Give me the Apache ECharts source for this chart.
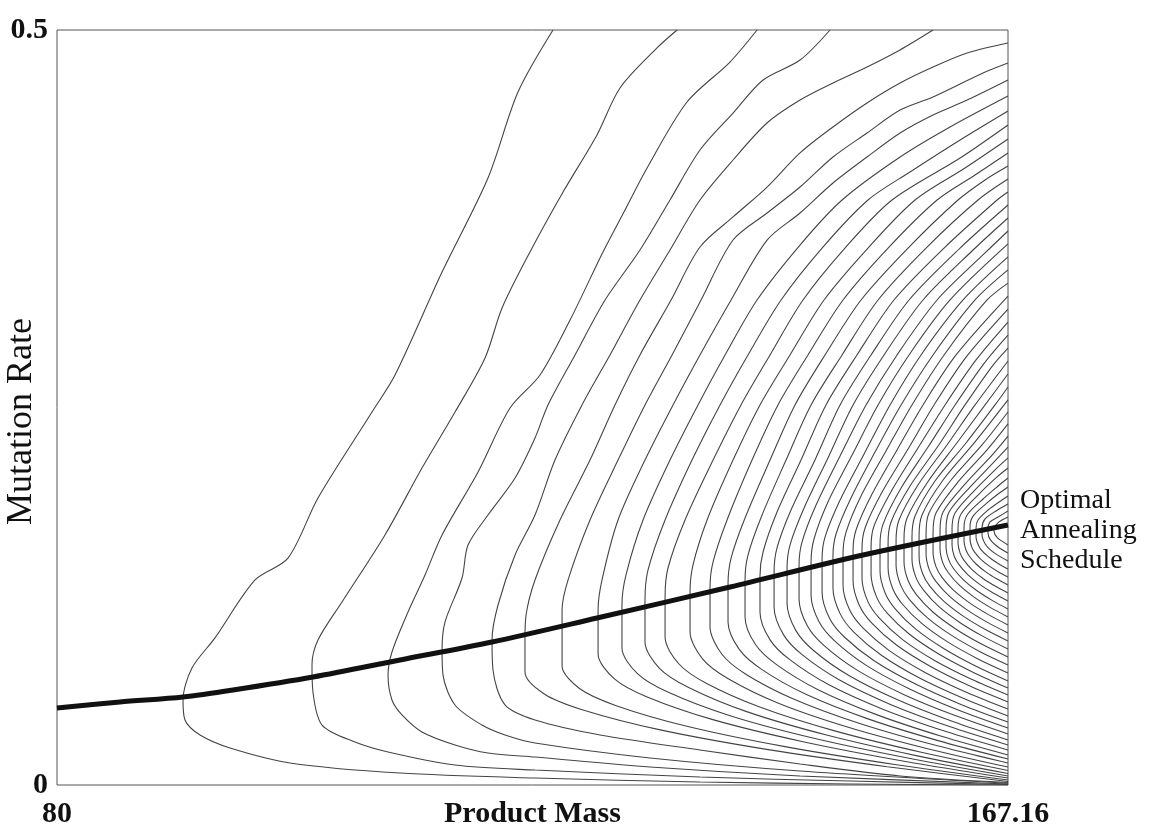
<!DOCTYPE html>
<html><head><meta charset="utf-8">
<script src="https://cdn.jsdelivr.net/npm/echarts@6/dist/echarts.min.js"></script>
<style>html,body{margin:0;padding:0;background:#fff}#chart{width:1160px;height:830px}</style>
</head><body><div id="chart"></div>
<script>
const xTickLabels = [80, 167.16];
const yTickLabels = [0, 0.5];
const xName = 'Product Mass';
const yName = 'Mutation Rate';
const scheduleName = 'Optimal\nAnnealing\nSchedule';

// optimal annealing schedule (thick line)
const schedule = [[80,0.0510],[85.77,0.0550],[91.55,0.0583],[96.13,0.0629],[103.46,0.0715],[111.44,0.0828],[119.87,0.0947],[129.49,0.1106],[141.68,0.1311],[153.87,0.1523],[167.16,0.1722]];

// contour lines, outermost first
const c1 = [[125.46,0.5],[122.25,0.4589],[119.50,0.4020],[115.29,0.3397],[110.98,0.2715],[108.87,0.2470],[103.92,0.1901],[101.17,0.1503],[98.15,0.1358],[94.48,0.0974],[92.37,0.0775],[91.55,0.0563],[91.73,0.0430],[93.11,0.0331],[95.86,0.0245],[101.36,0.0146],[111.44,0.0079],[123.81,0.0046],[138.93,0.0020],[152.68,0.0007],[167.16,0]];
const c2 = [[136.83,0.5],[134.99,0.4881],[131.60,0.4616],[129.49,0.4305],[126.38,0.3927],[123.35,0.3530],[120.79,0.3159],[119.23,0.2828],[116.48,0.2470],[113.45,0.2099],[110.06,0.1656],[106.12,0.1212],[103.92,0.0960],[103.37,0.0795],[103.46,0.0616],[104.29,0.0397],[107.31,0.0285],[110.34,0.0219],[116.48,0.0132],[123.81,0.0099],[138.93,0.0053],[152.68,0.0026],[167.16,0.0003]];
const c3 = [[144.16,0.5],[141.68,0.4788],[137.74,0.4523],[134.08,0.4086],[132.06,0.3808],[130.04,0.3530],[127.02,0.3079],[124.27,0.2715],[121.52,0.2497],[118.59,0.2073],[115.29,0.1656],[113.73,0.1391],[112.17,0.1146],[110.70,0.0881],[110.34,0.0728],[110.70,0.0563],[111.62,0.0464],[113.45,0.0351],[116.48,0.0265],[119.50,0.0212],[123.81,0.0185],[134.35,0.0119],[148.10,0.0060],[167.16,0.0007]];
const c4 = [[150.85,0.5],[148.10,0.4801],[144.71,0.4669],[141.96,0.4450],[138.93,0.4205],[136.18,0.3874],[133.43,0.3543],[130.23,0.3212],[127.48,0.2848],[125.00,0.2517],[123.81,0.2298],[121.98,0.2033],[119.50,0.1788],[117.67,0.1589],[117.12,0.1371],[115.56,0.1079],[115.29,0.0894],[115.38,0.0728],[116.48,0.0530],[118.95,0.0397],[121.06,0.0331],[123.81,0.0278],[134.35,0.0179],[148.10,0.0093],[167.16,0.0012]];
const c5 = [[160.29,0.5],[157.26,0.4868],[154.24,0.4755],[151.12,0.4649],[148.10,0.4536],[145.07,0.4384],[141.96,0.4139],[138.93,0.3874],[136.18,0.3543],[133.43,0.3212],[130.68,0.2848],[128.12,0.2517],[125.64,0.2152],[123.81,0.1788],[121.98,0.1523],[120.42,0.1192],[119.87,0.0960],[119.96,0.0762],[121.06,0.0530],[123.81,0.0430],[129.77,0.0331],[138.93,0.0232],[148.10,0.0139],[157.26,0.0060],[167.16,0.0017]];
const c6 = [[167.16,0.4914],[163.41,0.4848],[160.29,0.4755],[157.27,0.4649],[154.24,0.4517],[151.12,0.4358],[148.10,0.4186],[145.08,0.3960],[141.96,0.3762],[138.93,0.3563],[136.28,0.3212],[133.43,0.2848],[131.14,0.2517],[128.85,0.2152],[126.10,0.1755],[123.81,0.1358],[122.99,0.1126],[122.89,0.0960],[122.89,0.0748],[124.66,0.0603],[128.21,0.0497],[135.29,0.0365],[145.03,0.0236],[156.10,0.0121],[167.16,0.0023]];
const c7 = [[167.16,0.4781],[164.87,0.4715],[160.29,0.4556],[157.27,0.4470],[154.24,0.4318],[151.12,0.4159],[148.10,0.3960],[145.08,0.3788],[141.96,0.3609],[139.03,0.3212],[136.37,0.2848],[133.89,0.2517],[131.42,0.2152],[128.85,0.1755],[126.84,0.1358],[126.29,0.1159],[126.29,0.0960],[126.29,0.0788],[127.92,0.0637],[131.19,0.0527],[137.73,0.0389],[146.72,0.0254],[156.94,0.0134],[167.16,0.0033]];
const c8 = [[167.16,0.4669],[163.41,0.4536],[160.29,0.4437],[157.27,0.4318],[154.24,0.4159],[151.12,0.3987],[148.10,0.3788],[145.08,0.3609],[141.78,0.3212],[138.93,0.2848],[136.46,0.2517],[133.89,0.2152],[131.42,0.1755],[129.95,0.1358],[129.59,0.1159],[129.59,0.0868],[131.09,0.0703],[134.09,0.0583],[140.11,0.0433],[148.37,0.0287],[157.77,0.0156],[167.16,0.0046]];
const c9 = [[167.16,0.4563],[161.85,0.4358],[157.27,0.4159],[151.95,0.3874],[148.10,0.3576],[144.16,0.3212],[141.23,0.2848],[138.75,0.2517],[136.18,0.2152],[133.71,0.1755],[132.15,0.1391],[131.78,0.1192],[131.78,0.0907],[133.20,0.0738],[136.03,0.0614],[141.69,0.0459],[149.47,0.0308],[158.32,0.0174],[167.16,0.0060]];
const c10 = [[167.16,0.4464],[162.77,0.4272],[158.18,0.4060],[154.33,0.3874],[150.12,0.3556],[146.36,0.3212],[143.33,0.2848],[140.77,0.2517],[138.20,0.2152],[135.73,0.1755],[134.17,0.1424],[133.89,0.1225],[133.89,0.0947],[135.22,0.0773],[137.89,0.0646],[143.21,0.0486],[150.53,0.0331],[158.85,0.0193],[167.16,0.0076]];
const c11 = [[167.16,0.4371],[162.77,0.4152],[156.53,0.3874],[152.22,0.3556],[148.37,0.3212],[145.35,0.2848],[142.69,0.2517],[140.13,0.2152],[137.56,0.1755],[136.00,0.1437],[135.73,0.1245],[135.73,0.0980],[136.98,0.0803],[139.50,0.0674],[144.53,0.0513],[151.44,0.0355],[159.31,0.0215],[167.16,0.0096]];
const c12 = [[167.16,0.4278],[163.22,0.4086],[158.64,0.3874],[154.33,0.3556],[150.30,0.3212],[147.18,0.2848],[144.43,0.2517],[141.96,0.2152],[139.58,0.1755],[138.29,0.1457],[138.02,0.1278],[138.02,0.1013],[139.18,0.0834],[141.52,0.0704],[146.18,0.0540],[152.59,0.0381],[159.88,0.0239],[167.16,0.0119]];
const c13 = [[167.16,0.4185],[164.14,0.4040],[160.66,0.3874],[156.17,0.3556],[152.04,0.3212],[148.83,0.2848],[146.08,0.2517],[143.70,0.2152],[141.41,0.1755],[140.13,0.1477],[139.85,0.1305],[139.85,0.1046],[140.94,0.0866],[143.13,0.0734],[147.50,0.0570],[153.51,0.0409],[160.34,0.0266],[167.16,0.0146]];
const c14 = [[167.16,0.4099],[165.06,0.4007],[162.58,0.3874],[158.00,0.3556],[153.69,0.3212],[150.39,0.2848],[147.64,0.2517],[145.35,0.2152],[143.06,0.1768],[141.78,0.1503],[141.50,0.1331],[141.50,0.1079],[142.53,0.0898],[144.58,0.0766],[148.69,0.0599],[154.33,0.0438],[160.75,0.0294],[167.16,0.0172]];
const c15 = [[167.16,0.4013],[164.41,0.3874],[159.65,0.3556],[155.25,0.3212],[151.95,0.2848],[149.11,0.2517],[146.82,0.2152],[144.62,0.1788],[143.33,0.1523],[143.06,0.1358],[143.06,0.1113],[144.02,0.0930],[145.95,0.0797],[149.80,0.0629],[155.11,0.0466],[161.14,0.0321],[167.16,0.0199]];
const c16 = [[167.16,0.3927],[166.16,0.3874],[161.30,0.3556],[156.71,0.3212],[153.32,0.2848],[150.48,0.2517],[148.19,0.2152],[145.99,0.1808],[144.71,0.1543],[144.43,0.1384],[144.43,0.1146],[145.34,0.0963],[147.16,0.0830],[150.79,0.0662],[155.80,0.0499],[161.48,0.0354],[167.16,0.0232]];
const c17 = [[167.16,0.3841],[162.77,0.3556],[158.09,0.3212],[154.61,0.2848],[151.77,0.2517],[149.47,0.2152],[147.27,0.1821],[145.99,0.1570],[145.72,0.1411],[145.72,0.1179],[146.58,0.0996],[148.29,0.0863],[151.72,0.0695],[156.44,0.0532],[161.80,0.0387],[167.16,0.0265]];
const c18 = [[167.16,0.3755],[163.96,0.3543],[159.37,0.3212],[155.80,0.2848],[152.96,0.2517],[150.66,0.2166],[148.47,0.1834],[147.18,0.1589],[146.91,0.1437],[146.91,0.1205],[147.71,0.1024],[149.34,0.0891],[152.58,0.0725],[157.04,0.0564],[162.10,0.0420],[167.16,0.0298]];
const c19 = [[167.16,0.3669],[165.15,0.3530],[160.66,0.3212],[156.99,0.2848],[154.15,0.2517],[151.77,0.2179],[149.57,0.1854],[148.28,0.1609],[148.01,0.1457],[148.01,0.1232],[148.78,0.1053],[150.31,0.0923],[153.37,0.0759],[157.59,0.0600],[162.38,0.0458],[167.16,0.0338]];
const c20 = [[167.16,0.3583],[161.85,0.3212],[158.09,0.2848],[155.25,0.2517],[152.87,0.2185],[150.66,0.1874],[149.38,0.1629],[149.11,0.1477],[149.11,0.1258],[149.83,0.1082],[151.27,0.0954],[154.17,0.0792],[158.14,0.0636],[162.65,0.0495],[167.16,0.0377]];
const c21 = [[167.16,0.3497],[163.04,0.3212],[159.19,0.2848],[156.35,0.2517],[153.97,0.2192],[151.77,0.1887],[150.39,0.1642],[150.12,0.1497],[150.12,0.1278],[150.79,0.1106],[152.16,0.0980],[154.89,0.0823],[158.64,0.0670],[162.90,0.0532],[167.16,0.0417]];
const c22 = [[167.16,0.3411],[164.14,0.3212],[160.29,0.2848],[157.36,0.2517],[154.97,0.2205],[152.77,0.1901],[151.40,0.1662],[151.12,0.1517],[151.12,0.1305],[151.77,0.1135],[153.05,0.1011],[155.62,0.0856],[159.14,0.0705],[163.16,0.0571],[167.16,0.0457]];
const c23 = [[167.16,0.3324],[165.24,0.3212],[161.30,0.2848],[158.36,0.2517],[155.98,0.2212],[153.69,0.1914],[152.32,0.1675],[152.04,0.1530],[152.04,0.1325],[152.64,0.1160],[153.86,0.1040],[156.28,0.0890],[159.60,0.0744],[163.39,0.0613],[167.16,0.0503]];
const c24 = [[167.16,0.3238],[162.40,0.2848],[159.37,0.2517],[156.99,0.2219],[154.70,0.1927],[153.23,0.1689],[152.96,0.1550],[152.96,0.1351],[153.53,0.1191],[154.66,0.1074],[156.94,0.0927],[160.06,0.0785],[163.62,0.0657],[167.16,0.0550]];
const c25 = [[167.16,0.3152],[163.32,0.2834],[160.38,0.2517],[158.00,0.2225],[155.62,0.1940],[154.06,0.1702],[153.78,0.1563],[153.78,0.1371],[154.31,0.1216],[155.39,0.1103],[157.53,0.0961],[160.47,0.0823],[163.82,0.0700],[167.16,0.0596]];
const c26 = [[167.16,0.3066],[164.23,0.2815],[161.39,0.2517],[158.91,0.2232],[156.53,0.1954],[154.88,0.1715],[154.61,0.1576],[154.61,0.1397],[155.11,0.1246],[156.11,0.1136],[158.13,0.0998],[160.89,0.0864],[164.03,0.0744],[167.16,0.0642]];
const c27 = [[167.16,0.2980],[165.06,0.2801],[162.31,0.2517],[159.83,0.2238],[157.36,0.1967],[155.71,0.1728],[155.43,0.1589],[155.43,0.1417],[155.90,0.1272],[156.84,0.1165],[158.71,0.1032],[161.30,0.0902],[164.23,0.0786],[167.16,0.0689]];
const c28 = [[167.16,0.2894],[165.79,0.2781],[163.22,0.2517],[160.75,0.2245],[158.18,0.1980],[156.44,0.1742],[156.17,0.1603],[156.17,0.1437],[156.61,0.1298],[157.49,0.1197],[159.25,0.1070],[161.66,0.0946],[164.41,0.0835],[167.16,0.0742]];
const c29 = [[167.16,0.2808],[164.14,0.2517],[161.57,0.2252],[158.91,0.1987],[157.17,0.1755],[156.90,0.1616],[156.90,0.1457],[157.31,0.1325],[158.13,0.1228],[159.78,0.1107],[162.03,0.0989],[164.60,0.0883],[167.16,0.0795]];
const c30 = [[167.16,0.2722],[165.06,0.2517],[162.40,0.2258],[159.74,0.2000],[157.91,0.1768],[157.63,0.1629],[157.63,0.1477],[158.02,0.1351],[158.78,0.1259],[160.30,0.1144],[162.40,0.1032],[164.78,0.0932],[167.16,0.0848]];
const c31 = [[167.16,0.2636],[165.97,0.2517],[163.31,0.2265],[160.47,0.2013],[158.64,0.1781],[158.36,0.1642],[158.36,0.1497],[158.71,0.1377],[159.42,0.1291],[160.83,0.1181],[162.77,0.1075],[164.96,0.0981],[167.16,0.0901]];
const c32 = [[167.16,0.2550],[164.14,0.2272],[161.21,0.2020],[159.28,0.1788],[159.01,0.1649],[159.01,0.1510],[159.34,0.1399],[159.99,0.1317],[161.29,0.1216],[163.09,0.1117],[165.13,0.1028],[167.16,0.0954]];
const c33 = [[167.16,0.2470],[164.78,0.2252],[161.94,0.2020],[159.92,0.1801],[159.65,0.1662],[159.65,0.1530],[159.95,0.1425],[160.55,0.1349],[161.76,0.1253],[163.41,0.1160],[165.28,0.1077],[167.16,0.1007]];
const c34 = [[167.16,0.2391],[165.24,0.2219],[162.58,0.2007],[160.56,0.1801],[160.29,0.1669],[160.29,0.1543],[160.56,0.1446],[161.11,0.1375],[162.21,0.1287],[163.73,0.1201],[165.45,0.1125],[167.16,0.1060]];
const c35 = [[167.16,0.2311],[165.70,0.2185],[163.22,0.1993],[161.21,0.1808],[160.93,0.1682],[160.93,0.1563],[161.18,0.1473],[161.68,0.1407],[162.67,0.1325],[164.05,0.1244],[165.60,0.1173],[167.16,0.1113]];
const c36 = [[167.16,0.2238],[165.97,0.2146],[163.68,0.1973],[161.76,0.1808],[161.48,0.1689],[161.48,0.1576],[161.71,0.1494],[162.16,0.1434],[163.08,0.1359],[164.32,0.1286],[165.74,0.1221],[167.16,0.1166]];
const c37 = [[167.16,0.2166],[166.06,0.2093],[164.14,0.1954],[162.31,0.1801],[162.03,0.1695],[162.03,0.1589],[162.23,0.1515],[162.65,0.1461],[163.47,0.1393],[164.60,0.1327],[165.88,0.1268],[167.16,0.1219]];
const c38 = [[167.16,0.2099],[166.16,0.2040],[164.51,0.1927],[162.86,0.1795],[162.58,0.1702],[162.58,0.1603],[162.77,0.1536],[163.13,0.1488],[163.86,0.1427],[164.87,0.1368],[166.02,0.1316],[167.16,0.1272]];
const c39 = [[167.16,0.2033],[166.25,0.1980],[164.87,0.1894],[163.41,0.1788],[163.13,0.1702],[163.13,0.1616],[163.30,0.1558],[163.62,0.1515],[164.26,0.1462],[165.15,0.1410],[166.16,0.1364],[167.16,0.1325]];
const c40 = [[167.16,0.1974],[166.25,0.1927],[165.24,0.1868],[163.96,0.1781],[163.68,0.1709],[163.68,0.1629],[163.82,0.1579],[164.10,0.1542],[164.65,0.1496],[165.42,0.1451],[166.29,0.1411],[167.16,0.1377]];
const c41 = [[167.16,0.1914],[166.34,0.1874],[165.33,0.1821],[164.41,0.1755],[164.23,0.1702],[164.23,0.1642],[164.58,0.1569],[165.06,0.1530],[165.70,0.1493],[166.43,0.1459],[167.16,0.1430]];
const c42 = [[167.16,0.1861],[166.06,0.1815],[165.06,0.1762],[164.78,0.1702],[164.78,0.1656],[165.07,0.1596],[165.45,0.1564],[165.97,0.1534],[167.16,0.1483]];
const c43 = [[167.16,0.1815],[166.25,0.1775],[165.51,0.1742],[165.33,0.1695],[165.33,0.1669],[165.55,0.1623],[166.25,0.1576],[167.16,0.1536]];
const c44 = [[167.16,0.1775],[166.34,0.1742],[165.88,0.1695],[165.88,0.1682],[166.20,0.1636],[167.16,0.1589]];

const contours = [c1,c2,c3,c4,c5,c6,c7,c8,c9,c10,c11,c12,c13,c14,c15,c16,c17,c18,c19,c20,c21,c22,c23,c24,c25,c26,c27,c28,c29,c30,c31,c32,c33,c34,c35,c36,c37,c38,c39,c40,c41,c42,c43,c44];

const serif = "'Liberation Serif','Times New Roman',serif";
const chart = echarts.init(document.getElementById('chart'), null, {renderer: 'canvas'});

const series = contours.map(function (d) {
  return {
    type: 'line', data: d, showSymbol: false, smooth: 0.3, silent: true,
    lineStyle: {color: '#444', width: 1.1}, animation: false, clip: true
  };
});
series.push({
  type: 'line', data: schedule, showSymbol: false, smooth: 0.3, silent: true,
  lineStyle: {color: '#111', width: 5}, animation: false, clip: true,
  endLabel: {
    show: true, formatter: scheduleName, distance: 12, offset: [0, 6],
    fontFamily: serif, fontSize: 28, lineHeight: 30, color: '#111', align: 'left'
  }
});

chart.setOption({
  animation: false,
  backgroundColor: '#fff',
  grid: {left: 57, top: 30, width: 951, height: 755, containLabel: false, outerBoundsMode: 'none',
         show: true, borderColor: '#555', borderWidth: 1, backgroundColor: '#fff'},
  xAxis: {
    type: 'value', min: 80, max: 167.16,
    axisLine: {show: false}, axisTick: {show: false}, splitLine: {show: false},
    axisLabel: {customValues: xTickLabels, fontFamily: serif, fontSize: 30, fontWeight: 'bold', color: '#111', margin: 14},
    name: xName, nameLocation: 'middle', nameGap: 14, nameMoveOverlap: false,
    nameTextStyle: {fontFamily: serif, fontSize: 30, fontWeight: 'bold', color: '#111', verticalAlign: 'top'}
  },
  yAxis: {
    type: 'value', min: 0, max: 0.5,
    axisLine: {show: false}, axisTick: {show: false}, splitLine: {show: false},
    axisLabel: {customValues: yTickLabels, fontFamily: serif, fontSize: 30, fontWeight: 'bold', color: '#111', margin: 9},
    name: yName, nameLocation: 'middle', nameGap: 17, nameRotate: 90, nameMoveOverlap: false,
    nameTextStyle: {fontFamily: serif, fontSize: 36, color: '#111', padding: [0, 28, 0, 0]}
  },
  series: series
});
</script></body></html>
